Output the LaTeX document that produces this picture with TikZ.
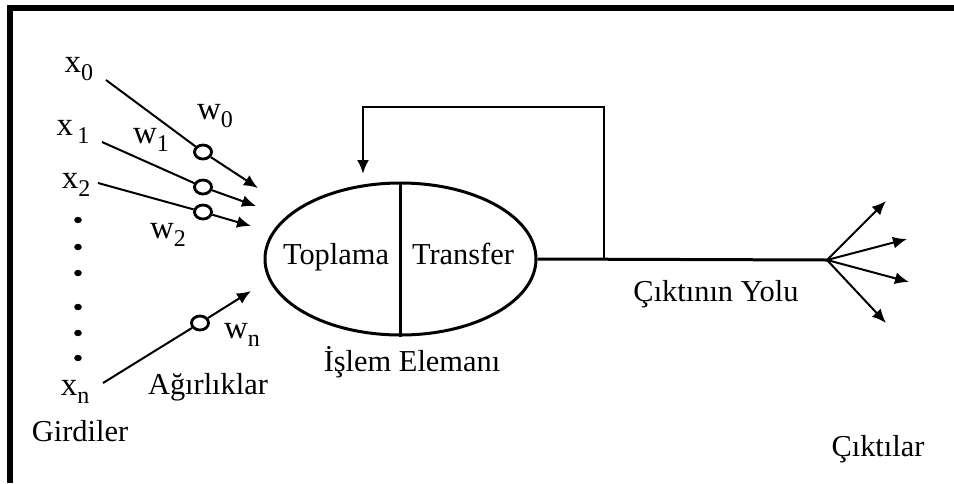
\documentclass[tikz,border=0pt]{standalone}
\usepackage{fontspec}
\setmainfont{Liberation Serif}
\usepackage{tikz}
\usetikzlibrary{arrows.meta,positioning,shapes.geometric}
\definecolor{ink}{RGB}{0,0,0}
\newcommand{\idx}[2]{{\fontsize{16.5}{18}\selectfont #1}\raisebox{-0.6ex}{\fontsize{12}{13}\selectfont #2}}

\begin{document}
\begin{tikzpicture}[x=0.5pt,y=-0.5pt,>={Latex[length=7pt,width=6pt]},font=\fontsize{15.2}{17}\selectfont]
\tikzset{lbl/.style={inner sep=0pt,text=ink},txt/.style={lbl,anchor=base},
  wt/.style={draw=ink,ellipse,line width=1.4pt,minimum width=8.5pt,minimum height=7pt,inner sep=0pt,fill=white},
  arr/.style={->,line width=1pt,draw=ink},line/.style={line width=1pt,draw=ink},
  mainline/.style={line width=1.5pt,draw=ink},
  dot/.style={fill=ink,ellipse,minimum width=3.8pt,minimum height=3.2pt,inner sep=0pt}}
\useasboundingbox (0,0) rectangle (954,483);
% frame (top and left only)
\draw[ink,line width=2.8pt] (10,483) -- (10,8) -- (954,8);
% inputs
\node[lbl] (x0) at (79,69) {\idx{x}{0}};
\node[lbl] (x1) at (73,132) {\idx{x}{\,1}};
\node[lbl] (x2) at (76,185) {\idx{x}{2}};
\node[lbl] (xn) at (75,392) {\idx{x}{n}};
\foreach \y [count=\i] in {220,247,273,307,333,358}
  \node[dot] (dot\i) at (78,\y) {};
\node[txt] (girdi) at (80,441) {Girdiler};
% weights
\coordinate (s0) at (106,80);\coordinate (s1) at (102,142);
\coordinate (s2) at (98,183);\coordinate (sn) at (103,383);
\node[wt] (c0) at (203,152) {};\node[wt] (c1) at (203,187) {};
\node[wt] (c2) at (203,212) {};\node[wt] (cn) at (200,323) {};
\coordinate (t0) at (258,188);\coordinate (t1) at (256,206);
\coordinate (t2) at (251,226);\coordinate (tn) at (251,291);
\foreach \k in {0,1,2,n}{\draw[line] (s\k) -- (c\k);\draw[arr] (c\k) -- (t\k);}
\node[lbl] (w0) at (215,116) {\idx{w}{0}};
\node[lbl] (w1) at (151,140) {\idx{w}{1}};
\node[lbl] (w2) at (168,235) {\idx{w}{2}};
\node[lbl] (wn) at (242,335) {\idx{w}{n}};
\node[txt] (agirlik) at (208,394) {Ağırlıklar};
% processing element
\node[draw=ink,ellipse,line width=1.5pt,minimum width=135.5pt,minimum height=76pt,inner sep=0pt] (pe) at (400.5,259) {};
\draw[mainline] (pe.north) -- (pe.south);
\node[txt] (sum) at (336,264) {Toplama};
\node[txt] (tf) at (463,264) {Transfer};
\node[txt] (islem) at (412,371) {İşlem Elemanı};
% output path and feedback
\coordinate (hub) at (827,260);\coordinate (tap) at (604,260);
\coordinate (fbtop) at (604,107);\coordinate (fbin) at (363,174);
\draw[mainline] (pe.east) -- (hub);
\draw[line,line width=1.3pt,->] (tap) -- (fbtop) -| (fbin);
\node[txt] (yol) at (716,301) {Çıktının Yolu};
% outputs
\coordinate (o1) at (886,201);\coordinate (o2) at (907,239);
\coordinate (o3) at (909,282);\coordinate (o4) at (886,323);
\foreach \o in {o1,o2,o3,o4} \draw[arr] (hub) -- (\o);
\node[txt] (cikti) at (878,456) {Çıktılar};
\end{tikzpicture}
\end{document}
